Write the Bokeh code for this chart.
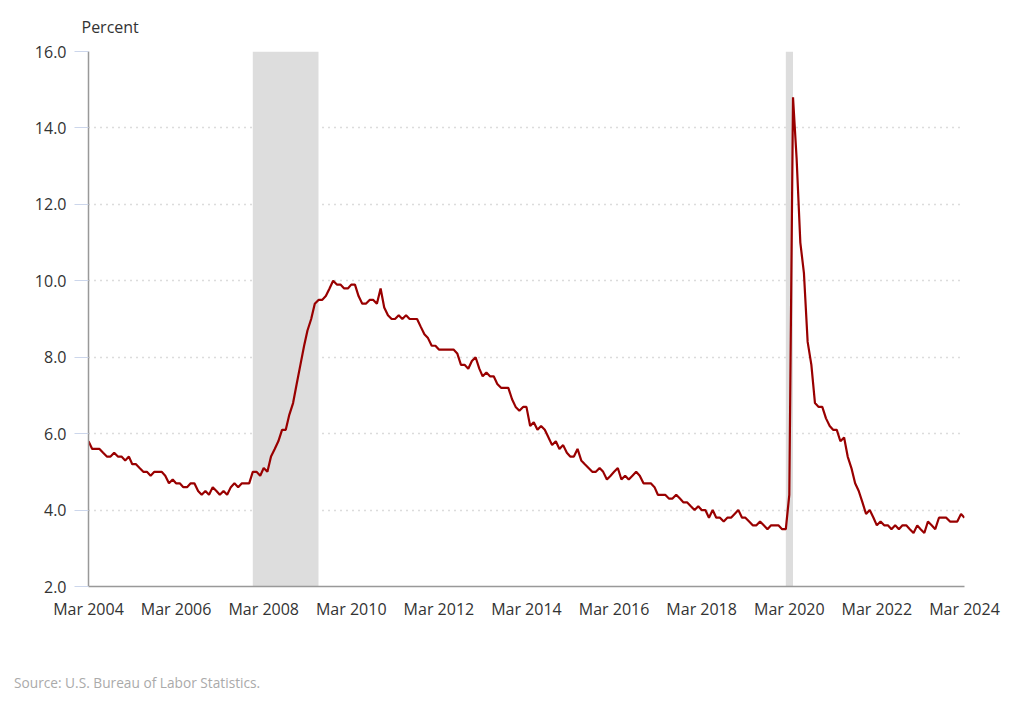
import pandas as pd
from bokeh.plotting import figure
from bokeh.layouts import column
from bokeh.models import (ColumnDataSource, BoxAnnotation, FixedTicker, DatetimeTickFormatter,
                          NumeralTickFormatter, Range1d, Div)
from bokeh.embed import file_html
from bokeh.resources import INLINE

# Unemployment rate, percent, monthly (Mar 2004 .. Mar 2024)
rate_2004 = [5.8, 5.6, 5.6, 5.6, 5.5, 5.4, 5.4, 5.5, 5.4, 5.4]  # Mar-Dec
rate_2005 = [5.3, 5.4, 5.2, 5.2, 5.1, 5.0, 5.0, 4.9, 5.0, 5.0, 5.0, 4.9]
rate_2006 = [4.7, 4.8, 4.7, 4.7, 4.6, 4.6, 4.7, 4.7, 4.5, 4.4, 4.5, 4.4]
rate_2007 = [4.6, 4.5, 4.4, 4.5, 4.4, 4.6, 4.7, 4.6, 4.7, 4.7, 4.7, 5.0]
rate_2008 = [5.0, 4.9, 5.1, 5.0, 5.4, 5.6, 5.8, 6.1, 6.1, 6.5, 6.8, 7.3]
rate_2009 = [7.8, 8.3, 8.7, 9.0, 9.4, 9.5, 9.5, 9.6, 9.8, 10.0, 9.9, 9.9]
rate_2010 = [9.8, 9.8, 9.9, 9.9, 9.6, 9.4, 9.4, 9.5, 9.5, 9.4, 9.8, 9.3]
rate_2011 = [9.1, 9.0, 9.0, 9.1, 9.0, 9.1, 9.0, 9.0, 9.0, 8.8, 8.6, 8.5]
rate_2012 = [8.3, 8.3, 8.2, 8.2, 8.2, 8.2, 8.2, 8.1, 7.8, 7.8, 7.7, 7.9]
rate_2013 = [8.0, 7.7, 7.5, 7.6, 7.5, 7.5, 7.3, 7.2, 7.2, 7.2, 6.9, 6.7]
rate_2014 = [6.6, 6.7, 6.7, 6.2, 6.3, 6.1, 6.2, 6.1, 5.9, 5.7, 5.8, 5.6]
rate_2015 = [5.7, 5.5, 5.4, 5.4, 5.6, 5.3, 5.2, 5.1, 5.0, 5.0, 5.1, 5.0]
rate_2016 = [4.8, 4.9, 5.0, 5.1, 4.8, 4.9, 4.8, 4.9, 5.0, 4.9, 4.7, 4.7]
rate_2017 = [4.7, 4.6, 4.4, 4.4, 4.4, 4.3, 4.3, 4.4, 4.3, 4.2, 4.2, 4.1]
rate_2018 = [4.0, 4.1, 4.0, 4.0, 3.8, 4.0, 3.8, 3.8, 3.7, 3.8, 3.8, 3.9]
rate_2019 = [4.0, 3.8, 3.8, 3.7, 3.6, 3.6, 3.7, 3.6, 3.5, 3.6, 3.6, 3.6]
rate_2020 = [3.5, 3.5, 4.4, 14.8, 13.2, 11.0, 10.2, 8.4, 7.8, 6.8, 6.7, 6.7]
rate_2021 = [6.4, 6.2, 6.1, 6.1, 5.8, 5.9, 5.4, 5.1, 4.7, 4.5, 4.2, 3.9]
rate_2022 = [4.0, 3.8, 3.6, 3.7, 3.6, 3.6, 3.5, 3.6, 3.5, 3.6, 3.6, 3.5]
rate_2023 = [3.4, 3.6, 3.5, 3.4, 3.7, 3.6, 3.5, 3.8, 3.8, 3.8, 3.7, 3.7]
rate_2024 = [3.7, 3.9, 3.8]  # Jan-Mar

start_month = "2004-03-01"
end_month = "2024-03-01"

recession_starts = ["2007-12-01", "2020-02-01"]
recession_ends = ["2009-06-01", "2020-04-01"]

tick_years = [2004, 2006, 2008, 2010, 2012, 2014, 2016, 2018, 2020, 2022, 2024]
y_ticks = [2, 4, 6, 8, 10, 12, 14, 16]

rate = (rate_2004 + rate_2005 + rate_2006 + rate_2007 + rate_2008 + rate_2009 + rate_2010
        + rate_2011 + rate_2012 + rate_2013 + rate_2014 + rate_2015 + rate_2016 + rate_2017
        + rate_2018 + rate_2019 + rate_2020 + rate_2021 + rate_2022 + rate_2023 + rate_2024)
dates = pd.date_range(start_month, periods=len(rate), freq="MS")
src = ColumnDataSource(dict(date=dates, rate=rate))

FONT = "Open Sans"

p = figure(width=1010, height=673, x_axis_type="datetime", output_backend="svg",
           toolbar_location=None, min_border_left=88, min_border_right=46,
           min_border_top=51, min_border_bottom=87,
           x_range=Range1d(pd.Timestamp(start_month), pd.Timestamp(end_month)),
           y_range=Range1d(2, 16))
p.outline_line_color = None
p.background_fill_color = "white"
p.border_fill_color = "white"

for s, e in zip(recession_starts, recession_ends):
    p.add_layout(BoxAnnotation(left=pd.Timestamp(s), right=pd.Timestamp(e),
                               fill_color="#dddddd", fill_alpha=1.0, line_color=None,
                               level="underlay"))

p.line("date", "rate", source=src, line_color="#990000", line_width=2.2)

# grid
p.xgrid.grid_line_color = None
p.ygrid.grid_line_color = "#b8b8b8"
p.ygrid.grid_line_dash = "1 5"
p.ygrid.grid_line_width = 1.5
p.ygrid.ticker = FixedTicker(ticks=y_ticks)

# y axis
p.yaxis.ticker = FixedTicker(ticks=y_ticks)
p.yaxis.formatter = NumeralTickFormatter(format="0.0")
p.yaxis.axis_line_color = "#999999"
p.yaxis.axis_line_width = 1.5
p.yaxis.major_tick_line_color = "#ccd6eb"
p.yaxis.major_tick_out = 14
p.yaxis.major_tick_in = 0
p.yaxis.minor_tick_line_color = None
p.yaxis.major_label_standoff = 8
p.yaxis.major_label_text_font = FONT
p.yaxis.major_label_text_font_size = "16px"
p.yaxis.major_label_text_color = "#333333"

# x axis
tick_ms = [pd.Timestamp(f"{y}-03-01").value // 10**6 for y in tick_years]
p.xaxis.ticker = FixedTicker(ticks=tick_ms)
fmt = "%b %Y"
p.xaxis.formatter = DatetimeTickFormatter(milliseconds=fmt, seconds=fmt, minsec=fmt, minutes=fmt,
                                          hourmin=fmt, hours=fmt, days=fmt, months=fmt, years=fmt)
p.xaxis.axis_line_color = "#999999"
p.xaxis.axis_line_width = 1.5
p.xaxis.major_tick_line_color = None
p.xaxis.minor_tick_line_color = None
p.xaxis.major_label_standoff = 5
p.xaxis.major_label_text_font = FONT
p.xaxis.major_label_text_font_size = "16px"
p.xaxis.major_label_text_color = "#333333"

# "Percent" title above the axis
p.title.text = "Percent"
p.title.align = "left"
p.title.offset = -7
p.title.standoff = 27
p.title.text_font = FONT
p.title.text_font_size = "16px"
p.title.text_font_style = "normal"
p.title.text_color = "#333333"

# source note below the chart
note = Div(text='<span style="font-family: \'Open Sans\'; font-size: 13.7px; color: #aaaaaa; '
                'line-height: 19px; white-space: nowrap;">Source: U.S. Bureau of Labor Statistics.</span>',
           width=400, height=41, margin=(0, 0, 0, 14),
           styles={"font-family": "Open Sans", "font-size": "13.7px", "color": "#aaaaaa",
                   "line-height": "19px"})

layout = column(p, note, spacing=0)

open("out.html", "w").write(file_html(layout, INLINE))
